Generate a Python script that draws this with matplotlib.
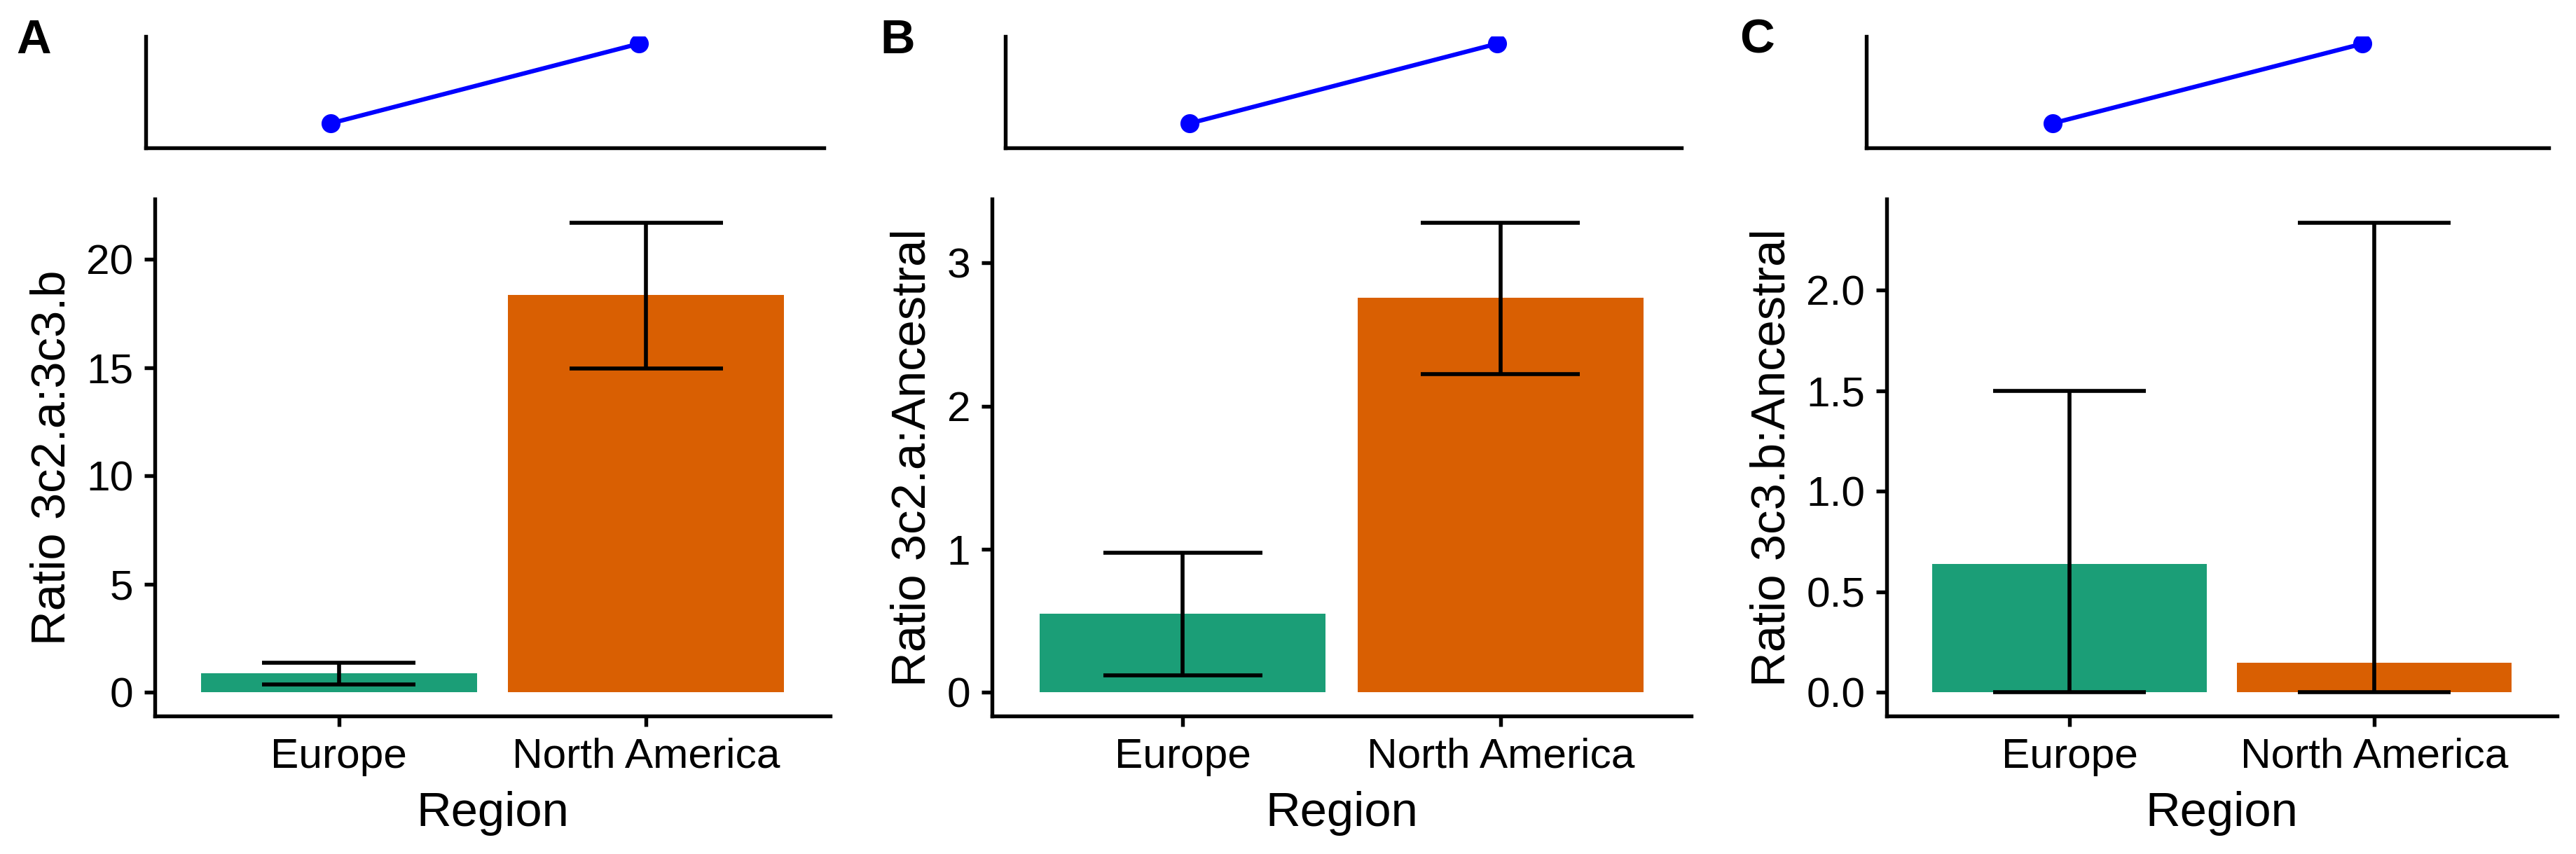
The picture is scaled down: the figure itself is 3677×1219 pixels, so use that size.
import matplotlib
matplotlib.use("Agg")
import matplotlib.pyplot as plt
from matplotlib.ticker import FormatStrFormatter

plt.rcParams['font.family'] = ['Liberation Sans', 'DejaVu Sans']

regions = ['Europe', 'North America']
bar_colors = ['#1B9E77', '#D95F02']

# panel A: 3c2.a : 3c3.b
ratio_a = [0.88, 18.35]
low_a = [0.38, 14.95]
high_a = [1.37, 21.70]

# panel B: 3c2.a : Ancestral
ratio_b = [0.55, 2.757]
low_b = [0.122, 2.223]
high_b = [0.976, 3.283]

# panel C: 3c3.b : Ancestral
ratio_c = [0.638, 0.149]
low_c = [0.0, 0.0]
high_c = [1.50, 2.336]

# small trend strip over each panel
trend = [0.235, 1.0]

panels = [
    ('A', 'Ratio 3c2.a:3c3.b', ratio_a, low_a, high_a, [0, 5, 10, 15, 20], '%d'),
    ('B', 'Ratio 3c2.a:Ancestral', ratio_b, low_b, high_b, [0, 1, 2, 3], '%d'),
    ('C', 'Ratio 3c3.b:Ancestral', ratio_c, low_c, high_c, [0, 0.5, 1.0, 1.5, 2.0], '%.1f'),
]

W, H = 3677, 1219
fig = plt.figure(figsize=(W / 300, H / 300), dpi=300)

# pixel boxes (left, right) for the bar axes and the strip axes
bar_boxes = [(221, 1185), (1416, 2414), (2693, 3650)]
top_boxes = [(208, 1176), (1435, 2400), (2664, 3638)]
label_x = [23, 1256, 2483]
bar_top, bar_bot = 284, 1022
strip_top, strip_bot = 52, 211

lw = 1.3
x = [0, 1]

for i, (tag, ylab, vals, lo, hi, ticks, fmt) in enumerate(panels):
    l, r = bar_boxes[i]
    ax = fig.add_axes([l / W, 1 - bar_bot / H, (r - l) / W, (bar_bot - bar_top) / H])
    ax.bar(x, vals, width=0.9, color=bar_colors)
    for xi, a, b in zip(x, lo, hi):
        ax.plot([xi, xi], [a, b], color='black', lw=1.35, solid_capstyle='butt')
        ax.plot([xi - 0.25, xi + 0.25], [a, a], color='black', lw=1.35, solid_capstyle='butt')
        ax.plot([xi - 0.25, xi + 0.25], [b, b], color='black', lw=1.35, solid_capstyle='butt')
    top = max(hi)
    ax.set_ylim(-0.05 * top, top * 1.05)
    ax.set_xlim(-0.6, 1.6)
    ax.set_xticks(x)
    ax.set_xticklabels(regions)
    ax.set_yticks(ticks)
    ax.yaxis.set_major_formatter(FormatStrFormatter(fmt))
    for s in ['top', 'right']:
        ax.spines[s].set_visible(False)
    for s in ['left', 'bottom']:
        ax.spines[s].set_linewidth(lw)
    ax.tick_params(length=3.6, width=lw, labelsize=14.5, pad=3.8, colors='black')
    ax.set_ylabel(ylab, fontsize=16.5, labelpad=4)
    ax.set_xlabel('Region', fontsize=16.5, labelpad=5)

    tl, tr = top_boxes[i]
    tax = fig.add_axes([tl / W, 1 - strip_bot / H, (tr - tl) / W, (strip_bot - strip_top) / H])
    tax.plot(x, trend, color='#0000FF', lw=1.5, marker='o', markersize=5.5)
    tax.set_xlim(-0.6, 1.6)
    tax.set_ylim(0, 1.07)
    tax.set_xticks([])
    tax.set_yticks([])
    for s in ['top', 'right']:
        tax.spines[s].set_visible(False)
    for s in ['left', 'bottom']:
        tax.spines[s].set_linewidth(lw)

    fig.text(label_x[i] / W, 1 - 26 / H, tag, fontsize=16.5, fontweight='bold', va='top', ha='left')

fig.savefig('out.png', dpi=300)
